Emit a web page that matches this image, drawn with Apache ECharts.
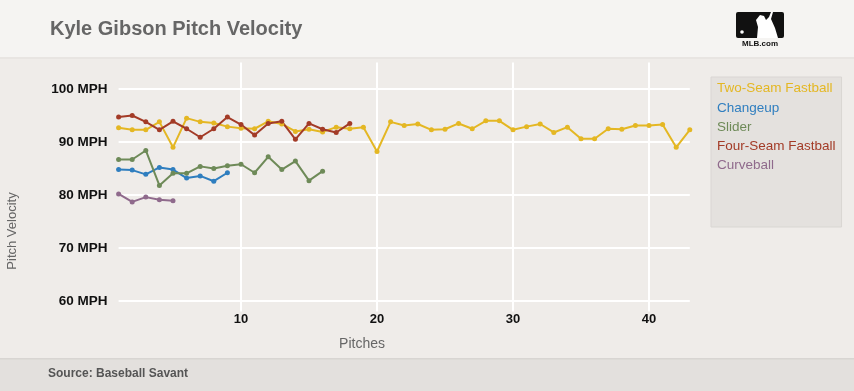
<!DOCTYPE html>
<html>
<head>
<meta charset="utf-8">
<script src="https://cdn.jsdelivr.net/npm/echarts@6/dist/echarts.min.js"></script>
<style>
html,body{margin:0;padding:0;background:#efece9;}
#chart{width:854px;height:391px;}
</style>
</head>
<body>
<div id="chart"></div>
<script>
var seriesNames = ['Two-Seam Fastball', 'Changeup', 'Slider', 'Four-Seam Fastball', 'Curveball'];
var seriesColors = ['#e4b723', '#2f7ebf', '#6e8a58', '#a33b27', '#8f6a8c'];

var twoSeam = [92.7, 92.3, 92.3, 93.8, 89.0, 94.5, 93.8, 93.6, 92.9, 92.6,
  92.5, 93.9, 93.4, 92.0, 92.4, 91.9, 92.8, 92.5, 92.8, 88.2,
  93.8, 93.1, 93.4, 92.3, 92.4, 93.5, 92.5, 94.0, 94.0, 92.3,
  92.9, 93.4, 91.8, 92.8, 90.6, 90.6, 92.5, 92.4, 93.1, 93.1,
  93.3, 89.0, 92.3];
var changeup = [84.8, 84.7, 83.9, 85.2, 84.8, 83.2, 83.6, 82.6, 84.2];
var slider = [86.7, 86.7, 88.4, 81.8, 84.1, 84.1, 85.4, 85.0, 85.5, 85.8,
  84.2, 87.2, 84.8, 86.4, 82.7, 84.5];
var fourSeam = [94.7, 95.0, 93.8, 92.3, 93.9, 92.5, 90.9, 92.5, 94.7, 93.3,
  91.3, 93.5, 93.9, 90.5, 93.5, 92.4, 91.8, 93.5];
var curveball = [80.2, 78.7, 79.6, 79.1, 78.9];

var yTicks = [60, 70, 80, 90, 100];
var xTicks = [10, 20, 30, 40];

var allValues = [twoSeam, changeup, slider, fourSeam, curveball];

function pairs(arr) {
  return arr.map(function (v, i) { return [i + 1, v]; });
}

var FONT = '"Liberation Sans", Arial, sans-serif';

var series = allValues.map(function (vals, i) {
  return {
    name: seriesNames[i],
    type: 'line',
    data: pairs(vals),
    symbol: 'circle',
    symbolSize: 5,
    z: 10,
    lineStyle: { width: 2, color: seriesColors[i] },
    itemStyle: { color: seriesColors[i] },
    emphasis: { disabled: true },
    animation: false
  };
});

var gridLines = [];
yTicks.forEach(function (v) { gridLines.push({ yAxis: v }); });
xTicks.forEach(function (v) { gridLines.push({ xAxis: v }); });

series.unshift({
  name: 'grid',
  type: 'line',
  data: [],
  z: 1,
  silent: true,
  animation: false,
  markLine: {
    z: 1,
    silent: true,
    symbol: ['none', 'none'],
    label: { show: false },
    animation: false,
    lineStyle: { color: '#ffffff', width: 2, type: 'solid' },
    emphasis: { disabled: true },
    data: gridLines
  }
});

var chart = echarts.init(document.getElementById('chart'), null, { renderer: 'canvas' });
chart.setOption({
  animation: false,
  backgroundColor: '#efece9',
  textStyle: { fontFamily: FONT },
  grid: { left: 118.6, top: 62.5, width: 571.2, height: 249.1 },
  xAxis: {
    type: 'value',
    min: 1, max: 43, interval: 1,
    axisLine: { show: false },
    axisTick: { show: false },
    splitLine: { show: false },
    axisLabel: {
      margin: 1,
      color: '#111',
      fontWeight: 'bold',
      fontSize: 13,
      fontFamily: FONT,
      formatter: function (v) { return xTicks.indexOf(v) >= 0 ? String(v) : ''; }
    }
  },
  yAxis: {
    type: 'value',
    min: 58, max: 105, interval: 1,
    axisLine: { show: false },
    axisTick: { show: false },
    splitLine: { show: false },
    axisLabel: {
      margin: 11,
      color: '#111',
      fontWeight: 'bold',
      fontSize: 13.5,
      fontFamily: FONT,
      formatter: function (v) { return yTicks.indexOf(v) >= 0 ? v + ' MPH' : ''; }
    }
  },
  legend: {
    orient: 'vertical',
    left: 711, top: 77,
    padding: [2, 6, 51.75, 1],
    backgroundColor: '#e4e1de',
    borderColor: '#d9d6d3',
    borderWidth: 1,
    itemWidth: 0, itemHeight: 0,
    icon: 'rect',
    itemGap: 0,
    selectedMode: false,
    textStyle: { fontSize: 13.5, lineHeight: 19.25, fontFamily: FONT },
    data: seriesNames.map(function (n, i) {
      return { name: n, textStyle: { color: seriesColors[i] } };
    })
  },
  graphic: [
    { type: 'rect', z: -10, silent: true, shape: { x: 0, y: 0, width: 854, height: 57 }, style: { fill: '#f5f4f2' } },
    { type: 'rect', z: -10, silent: true, shape: { x: 0, y: 57, width: 854, height: 2 }, style: { fill: '#e8e5e2' } },
    { type: 'rect', z: -10, silent: true, shape: { x: 0, y: 359, width: 854, height: 32 }, style: { fill: '#e3e0dd' } },
    { type: 'rect', z: -10, silent: true, shape: { x: 0, y: 358, width: 854, height: 1.5 }, style: { fill: '#d8d5d2' } },
    { type: 'text', silent: true, style: { x: 50, y: 29, text: 'Kyle Gibson Pitch Velocity', fill: '#666666', font: 'bold 20px ' + FONT, textVerticalAlign: 'middle' } },
    { type: 'text', silent: true, style: { x: 48, y: 373.5, text: 'Source: Baseball Savant', fill: '#555555', font: 'bold 12px ' + FONT, textVerticalAlign: 'middle' } },
    { type: 'text', silent: true, style: { x: 362, y: 344, text: 'Pitches', fill: '#666666', font: '14px ' + FONT, textAlign: 'center', textVerticalAlign: 'middle' } },
    { type: 'text', silent: true, rotation: Math.PI / 2, x: 12, y: 231, style: { x: 0, y: 0, text: 'Pitch Velocity', fill: '#666666', font: '13px ' + FONT, textAlign: 'center', textVerticalAlign: 'middle' } },
    { type: 'rect', silent: true, shape: { x: 736, y: 12, width: 48, height: 26, r: 2 }, style: { fill: '#111111' } },
    { type: 'circle', silent: true, shape: { cx: 742, cy: 32, r: 1.8 }, style: { fill: '#ffffff' } },
    { type: 'polygon', silent: true, shape: { points: [[757, 38], [758, 27], [756, 20], [760, 15], [764, 16], [766, 20], [769, 17], [771, 12], [773, 12], [771, 19], [775, 28], [778, 38]] }, style: { fill: '#ffffff' } },
    { type: 'text', silent: true, style: { x: 760, y: 44, text: 'MLB.com', fill: '#111111', font: 'bold 8px ' + FONT, textAlign: 'center', textVerticalAlign: 'middle' } }
  ],
  series: series
});
</script>
</body>
</html>
